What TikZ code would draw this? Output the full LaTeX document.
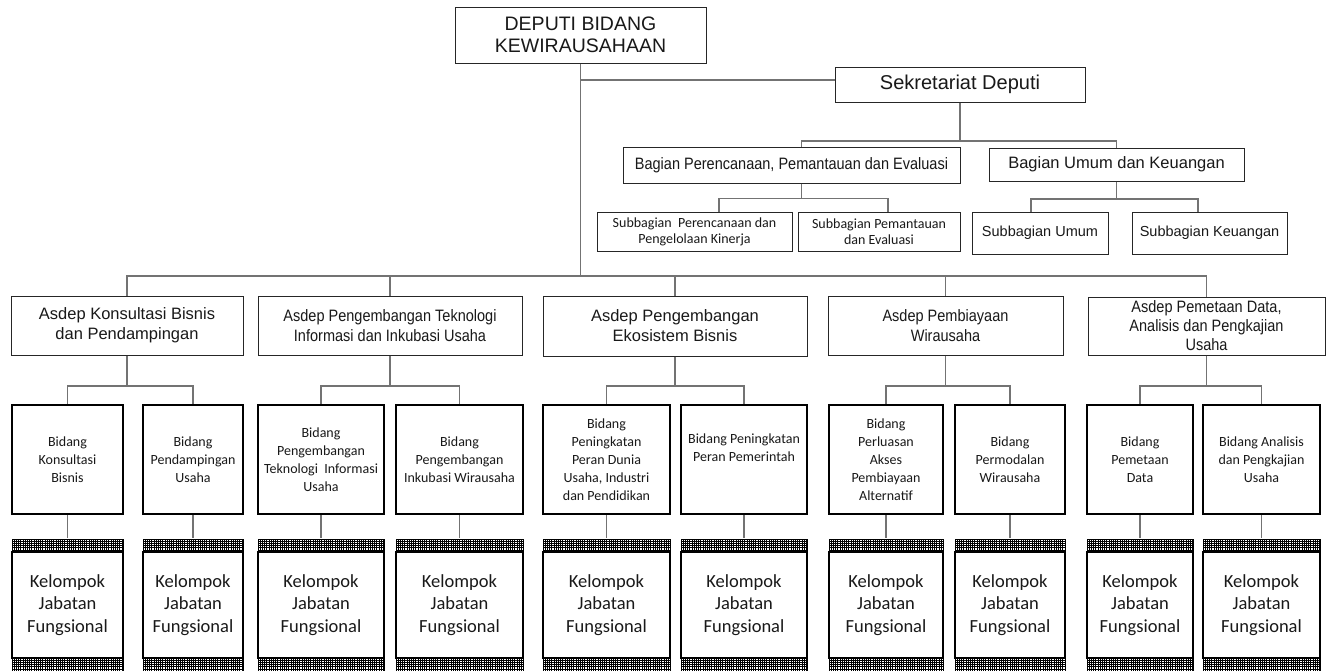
\documentclass[tikz,border=0pt]{standalone}
\usepackage{fontspec}
\setmainfont{Liberation Sans}
\newfontfamily\arialfont{Liberation Sans}
\newfontfamily\narrowfont{Liberation Sans}[FakeStretch=0.88]
\newfontfamily\calfont{Carlito}

% cross-hatched band: left, top, right, bottom (pixel units, y downwards)
\newcommand\hatchband[4]{%
  \begin{scope}
    \clip (#1,#2) rectangle (#3,#4);
    \fill[white] (#1,#2) rectangle (#3,#4);
    \foreach \k in {0,...,60} {
      \draw[black, line width=0.7pt] ({#1+\k*2.2},#2) -- ({#1+\k*2.2},#4);
    }
    \foreach \k in {0,...,7} {
      \draw[black, line width=0.7pt] (#1,{#2+\k*2.2}) -- (#3,{#2+\k*2.2});
    }
  \end{scope}
  \draw[black, line width=0.8pt] (#1,#2) rectangle (#3,#4);
}

\tikzset{
  conn/.style={draw=black!55, line width=1.1pt},
  topbox/.style={draw=black!85, line width=1pt, fill=white, inner sep=0pt,
    align=center, text=black!90},
  bidbox/.style={draw=black, line width=2.4pt, fill=white, inner sep=0pt,
    align=center, text=black!90, minimum height=109pt,
    font=\calfont\fontsize{14}{18}\selectfont},
  kbox/.style={draw=black, line width=2.4pt, fill=white, inner sep=0pt,
    align=center, text=black!90, minimum height=106pt,
    font=\calfont\fontsize{18.5}{22.5}\selectfont},
  asdep/.style={topbox, font=\arialfont\fontsize{16.5}{20}\selectfont},
  asdepn/.style={topbox, font=\narrowfont\fontsize{16.5}{20}\selectfont},
}

\begin{document}
\begin{tikzpicture}[x=1pt, y=-1pt]
\useasboundingbox (0,0) rectangle (1328,670);
\fill[white] (0,0) rectangle (1328,670);

% ---- top of the chart ----
\node[topbox, minimum width=251pt, minimum height=56pt,
      font=\arialfont\fontsize{19.5}{22}\selectfont] (deputi) at (580.5,35)
  {DEPUTI BIDANG\\KEWIRAUSAHAAN};
\node[topbox, minimum width=250pt, minimum height=35pt,
      font=\arialfont\fontsize{20}{23}\selectfont] (sekr) at (960,84.5)
  {Sekretariat Deputi};

\node[topbox, minimum width=337pt, minimum height=36pt,
      font=\narrowfont\fontsize{16.5}{20}\selectfont] (bagP) at (791.5,165)
  {Bagian Perencanaan, Pemantauan dan Evaluasi};
\node[topbox, minimum width=255pt, minimum height=33pt,
      font=\arialfont\fontsize{16.5}{20}\selectfont] (bagU) at (1116.5,164.5)
  {Bagian Umum dan Keuangan};

\node[topbox, minimum width=195pt, minimum height=39pt,
      font=\calfont\fontsize{14}{16}\selectfont] (sub1) at (694.5,231.5)
  {Subbagian\ \ Perencanaan dan\\Pengelolaan Kinerja};
\node[topbox, minimum width=162pt, minimum height=39pt,
      font=\calfont\fontsize{14}{16}\selectfont] (sub2) at (879,231.5)
  {Subbagian Pemantauan\\dan Evaluasi};
\node[topbox, minimum width=136pt, minimum height=42pt,
      font=\arialfont\fontsize{14.5}{17}\selectfont] (sub3) at (1040,233)
  {Subbagian Umum};
\node[topbox, minimum width=155pt, minimum height=42pt,
      font=\arialfont\fontsize{14.5}{17}\selectfont] (sub4) at (1209.5,233)
  {Subbagian Keuangan};

% ---- assistant deputies ----
\node[asdep,  minimum width=232pt, minimum height=59pt] (a1) at (127,325.5)
  {Asdep Konsultasi Bisnis\\dan Pendampingan};
\node[asdepn, minimum width=264pt, minimum height=59pt] (a2) at (390,325.5)
  {Asdep Pengembangan Teknologi\\Informasi dan Inkubasi Usaha};
\node[asdep,  minimum width=264pt, minimum height=60pt] (a3) at (675,326)
  {Asdep Pengembangan\\Ekosistem Bisnis};
\node[asdepn, minimum width=235pt, minimum height=59pt] (a4) at (945.5,325.5)
  {Asdep Pembiayaan\\Wirausaha};
\node[asdepn, minimum width=237pt, minimum height=58pt,
      font=\narrowfont\fontsize{16.5}{19}\selectfont] (a5) at (1206.5,326)
  {Asdep Pemetaan Data,\\Analisis dan Pengkajian\\Usaha};

% ---- divisions ----
\node[bidbox, minimum width=111pt] (b1)  at (67.5,459.5)  {Bidang\\Konsultasi\\Bisnis};
\node[bidbox, minimum width=100pt] (b2)  at (193,459.5)   {Bidang\\Pendampingan\\Usaha};
\node[bidbox, minimum width=126pt] (b3)  at (321,459.5)   {Bidang\\Pengembangan\\Teknologi\ \ Informasi\\Usaha};
\node[bidbox, minimum width=127pt] (b4)  at (459.5,459.5) {Bidang\\Pengembangan\\Inkubasi Wirausaha};
\node[bidbox, minimum width=127pt] (b5)  at (606.5,459.5) {Bidang\\Peningkatan\\Peran Dunia\\Usaha, Industri\\dan Pendidikan};
\node[bidbox, minimum width=126pt] (b6)  at (744,459.5)   {Bidang Peningkatan\\Peran Pemerintah\\\strut};
\node[bidbox, minimum width=114pt] (b7)  at (886,459.5)   {Bidang\\Perluasan\\Akses\\Pembiayaan\\Alternatif};
\node[bidbox, minimum width=110pt] (b8)  at (1010,459.5)  {Bidang\\Permodalan\\Wirausaha};
\node[bidbox, minimum width=106pt] (b9)  at (1140,459.5)  {Bidang\\Pemetaan\\Data};
\node[bidbox, minimum width=117pt] (b10) at (1261.5,459.5){Bidang Analisis\\dan Pengkajian\\Usaha};

% ---- functional groups ----
\foreach \cx/\w [count=\i] in {67.5/111, 193/100, 321/126, 459.5/127, 606.5/127,
                               744/126, 886/114, 1010/110, 1140/106, 1261.5/117} {
  \hatchband{\cx-\w/2}{539}{\cx+\w/2}{552}
  \hatchband{\cx-\w/2}{658}{\cx+\w/2}{671}
  \node[kbox, minimum width=\w pt] (k\i) at (\cx,605) {Kelompok\\Jabatan\\Fungsional};
  \draw[conn] (b\i.south) -- ([yshift=13pt]k\i.north);
}

% ---- connectors ----
\coordinate (abar) at (deputi.south |- 0,276);
\draw[conn] (deputi.south) -- (abar);
\draw[conn] (deputi.south |- 0,80) -- (sekr.west |- 0,80);
\draw[conn] (a1.north) |- (abar) -| (a5.north);
\foreach \n in {a2,a3,a4} { \draw[conn] (\n.north) -- (\n.north |- abar); }

\draw[conn] (sekr.south) -- ++(0,38.5) coordinate (sbar);
\draw[conn] ([xshift=10pt]bagP.north) |- (sbar) -| (bagU.north);

\draw[conn] ([xshift=10pt]bagP.south) -- ++(0,15) coordinate (pbar);
\draw[conn] ([xshift=24.5pt]sub1.north) |- (pbar) -| ([xshift=9pt]sub2.north);

\draw[conn] (bagU.south) -- ++(0,17.5) coordinate (ubar);
\draw[conn] ([xshift=-9pt]sub3.north) |- (ubar) -| ([xshift=-11.5pt]sub4.north);

\foreach \a/\l/\r in {a1/b1/b2, a2/b3/b4, a3/b5/b6, a4/b7/b8, a5/b9/b10} {
  \draw[conn] (\a.south) -- (\a.south |- 0,386);
  \draw[conn] (\l.north) |- (\a.south |- 0,386) -| (\r.north);
}
\end{tikzpicture}
\end{document}
